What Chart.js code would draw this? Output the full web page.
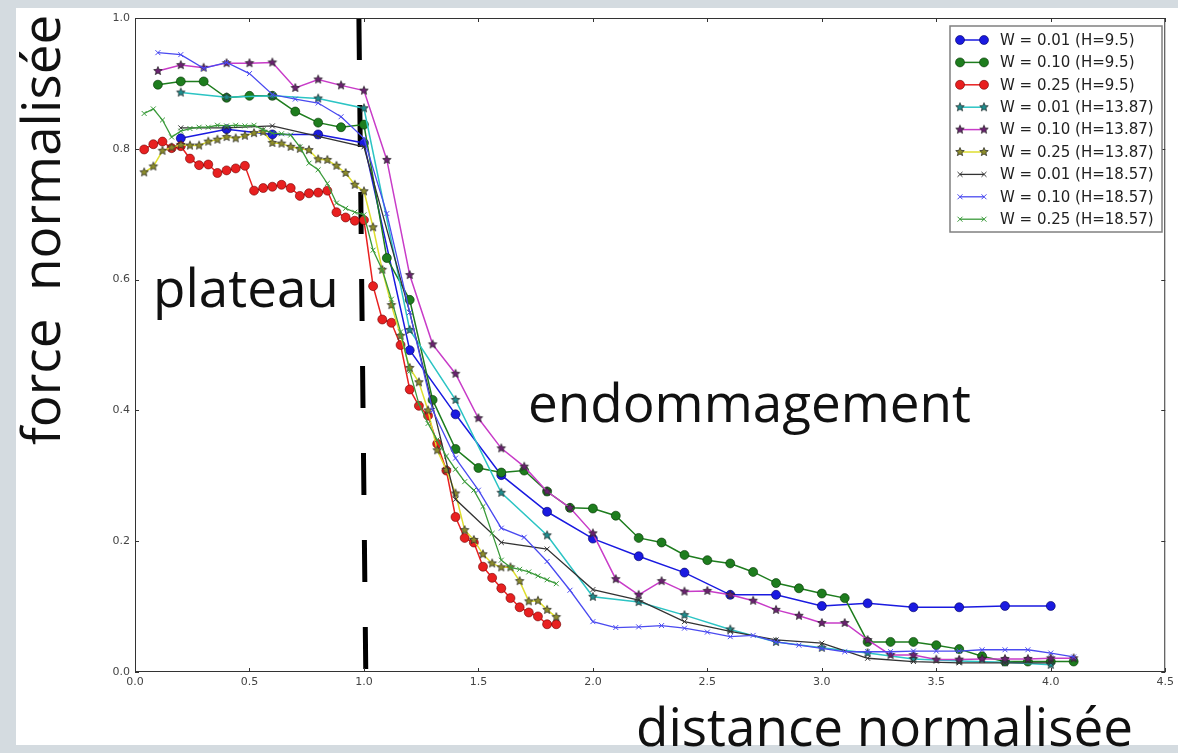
<!DOCTYPE html>
<html>
<head>
<meta charset="utf-8">
<script src="https://cdn.jsdelivr.net/npm/chart.js@4/dist/chart.umd.min.js"></script>
<style>
  html, body { margin: 0; padding: 0; background: #d4dbe0; overflow: hidden; }
  #sheet { position: absolute; left: 16px; top: 8px; width: 1162px; height: 737px; background: #fff; }
  #chart { position: absolute; left: 0; top: 0; }
</style>
</head>
<body>
<div id="sheet"></div>
<canvas id="chart" width="1178" height="753"></canvas>
<script>
// distances (x) used by the runs
const xStep01 = [0.1, 0.2, 0.3, 0.4, 0.5, 0.6, 0.7, 0.8, 0.9, 1.0,
                 1.1, 1.2, 1.3, 1.4, 1.5, 1.6, 1.7, 1.8, 1.9, 2.0,
                 2.1, 2.2, 2.3, 2.4, 2.5, 2.6, 2.7, 2.8, 2.9, 3.0,
                 3.1, 3.2, 3.3, 3.4, 3.5, 3.6, 3.7, 3.8, 3.9, 4.0, 4.1];
const xStep02 = [0.2, 0.4, 0.6, 0.8, 1.0, 1.2, 1.4, 1.6, 1.8, 2.0,
                 2.2, 2.4, 2.6, 2.8, 3.0, 3.2, 3.4, 3.6, 3.8, 4.0];
const xStep004 = [0.04, 0.08, 0.12, 0.16, 0.20, 0.24, 0.28, 0.32, 0.36, 0.40,
                  0.44, 0.48, 0.52, 0.56, 0.60, 0.64, 0.68, 0.72, 0.76, 0.80,
                  0.84, 0.88, 0.92, 0.96, 1.00, 1.04, 1.08, 1.12, 1.16, 1.20,
                  1.24, 1.28, 1.32, 1.36, 1.40, 1.44, 1.48, 1.52, 1.56, 1.60,
                  1.64, 1.68, 1.72, 1.76, 1.80, 1.84];

// normalised force per run
const w001h95 = [0.816, 0.830, 0.822, 0.822, 0.809, 0.492, 0.394, 0.301, 0.245, 0.204,
                 0.177, 0.152, 0.118, 0.118, 0.101, 0.105, 0.099, 0.099, 0.101, 0.101];
const w010h95 = [0.898, 0.903, 0.903, 0.878, 0.881, 0.881, 0.857, 0.840, 0.833, 0.837,
                 0.633, 0.569, 0.416, 0.341, 0.312, 0.305, 0.308, 0.276, 0.251, 0.250,
                 0.239, 0.205, 0.198, 0.179, 0.171, 0.166, 0.153, 0.136, 0.128, 0.120,
                 0.113, 0.046, 0.046, 0.046, 0.041, 0.035, 0.024, 0.016, 0.016, 0.016, 0.016];
const w025h95 = [0.799, 0.807, 0.811, 0.801, 0.804, 0.785, 0.775, 0.776, 0.763, 0.767,
                 0.770, 0.774, 0.736, 0.740, 0.742, 0.745, 0.740, 0.728, 0.732, 0.733,
                 0.736, 0.703, 0.695, 0.690, 0.691, 0.590, 0.539, 0.534, 0.500, 0.432,
                 0.407, 0.392, 0.349, 0.308, 0.237, 0.205, 0.198, 0.161, 0.144, 0.128,
                 0.113, 0.099, 0.091, 0.085, 0.073, 0.073];
const w001h1387 = [0.886, 0.879, 0.881, 0.877, 0.862, 0.523, 0.416, 0.274, 0.209, 0.115,
                   0.107, 0.087, 0.065, 0.046, 0.037, 0.029, 0.020, 0.017, 0.015, 0.011];
const w010h1387 = [0.919, 0.928, 0.924, 0.931, 0.931, 0.932, 0.893, 0.906, 0.897, 0.889,
                   0.783, 0.607, 0.501, 0.456, 0.388, 0.342, 0.314, 0.276, 0.251, 0.212,
                   0.142, 0.118, 0.139, 0.123, 0.124, 0.118, 0.109, 0.095, 0.086, 0.075,
                   0.075, 0.049, 0.026, 0.026, 0.019, 0.019, 0.020, 0.020, 0.020, 0.021, 0.021];
const w025h1387 = [0.764, 0.773, 0.797, 0.802, 0.806, 0.805, 0.805, 0.811, 0.814, 0.818,
                   0.816, 0.820, 0.824, 0.826, 0.809, 0.808, 0.803, 0.800, 0.798, 0.784,
                   0.783, 0.774, 0.763, 0.745, 0.735, 0.680, 0.615, 0.561, 0.514, 0.465,
                   0.443, 0.400, 0.339, 0.309, 0.273, 0.217, 0.202, 0.180, 0.166, 0.160,
                   0.160, 0.139, 0.108, 0.109, 0.095, 0.084];
const w001h1857 = [0.832, 0.832, 0.835, 0.819, 0.803, 0.550, 0.264, 0.198, 0.188, 0.126,
                   0.110, 0.077, 0.062, 0.049, 0.044, 0.021, 0.016, 0.014, 0.014, 0.014];
const w010h1857 = [0.947, 0.944, 0.923, 0.932, 0.915, 0.883, 0.876, 0.870, 0.849, 0.816,
                   0.701, 0.550, 0.400, 0.327, 0.278, 0.220, 0.206, 0.169, 0.125, 0.077,
                   0.068, 0.069, 0.071, 0.067, 0.061, 0.054, 0.056, 0.046, 0.041, 0.036,
                   0.031, 0.031, 0.031, 0.032, 0.032, 0.032, 0.034, 0.034, 0.034, 0.029, 0.023];
const w025h1857 = [0.854, 0.861, 0.844, 0.818, 0.827, 0.831, 0.833, 0.833, 0.836, 0.835,
                   0.836, 0.835, 0.836, 0.829, 0.824, 0.823, 0.821, 0.803, 0.778, 0.768,
                   0.747, 0.717, 0.709, 0.703, 0.699, 0.645, 0.615, 0.570, 0.520, 0.460,
                   0.410, 0.380, 0.355, 0.330, 0.310, 0.291, 0.278, 0.253, 0.212, 0.171,
                   0.160, 0.157, 0.153, 0.147, 0.141, 0.135];

const seriesLabels = ["W = 0.01 (H=9.5)", "W = 0.10 (H=9.5)", "W = 0.25 (H=9.5)",
                      "W = 0.01 (H=13.87)", "W = 0.10 (H=13.87)", "W = 0.25 (H=13.87)",
                      "W = 0.01 (H=18.57)", "W = 0.10 (H=18.57)", "W = 0.25 (H=18.57)"];

// dashed boundary plateau / endommagement
const dividerX = [0.978, 1.008];
const dividerY = [1.0, 0.0];

const xTicks = [0.0, 0.5, 1.0, 1.5, 2.0, 2.5, 3.0, 3.5, 4.0, 4.5];
const yTicks = [0.0, 0.2, 0.4, 0.6, 0.8, 1.0];

function toPoints(xs, ys) {
    return ys.map((v, i) => ({ x: xs[i], y: v }));
}

// filled star marker (matplotlib '*')
function makeStar(fill, edge, r) {
    const c = document.createElement("canvas");
    const s = Math.ceil(r * 2 + 3);
    c.width = s; c.height = s;
    const g = c.getContext("2d");
    g.translate(s / 2, s / 2);
    g.beginPath();
    for (let k = 0; k < 10; k++) {
        const rr = k % 2 === 0 ? r : r * 0.45;
        const a = -Math.PI / 2 + k * Math.PI / 5;
        g.lineTo(rr * Math.cos(a), rr * Math.sin(a));
    }
    g.closePath();
    g.fillStyle = fill;
    g.fill();
    g.lineWidth = 0.7;
    g.strokeStyle = edge;
    g.stroke();
    return c;
}

function circleSet(label, xs, ys, color, edge, idx) {
    return {
        label, data: toPoints(xs, ys), borderColor: color, borderWidth: 1.5,
        pointStyle: "circle", pointRadius: 4.5, pointBackgroundColor: color,
        pointBorderColor: edge, pointBorderWidth: 0.6, order: 20 - idx
    };
}
function starSet(label, xs, ys, color, fill, idx) {
    return {
        label, data: toPoints(xs, ys), borderColor: color, borderWidth: 1.5,
        pointStyle: makeStar(fill, "#222", 4.5), pointRadius: 4.5, order: 20 - idx
    };
}
function crossSet(label, xs, ys, color, idx) {
    return {
        label, data: toPoints(xs, ys), borderColor: color, borderWidth: 1.3,
        pointStyle: "crossRot", pointRadius: 3.5, pointBorderColor: color,
        pointBorderWidth: 1, order: 20 - idx
    };
}

const datasets = [
    circleSet(seriesLabels[0], xStep02, w001h95, "#1a1ae0", "#000060", 0),
    circleSet(seriesLabels[1], xStep01, w010h95, "#1e7d1e", "#003000", 1),
    circleSet(seriesLabels[2], xStep004, w025h95, "#e82020", "#700000", 2),
    starSet(seriesLabels[3], xStep02, w001h1387, "#2cc4c4", "#1f8d8d", 3),
    starSet(seriesLabels[4], xStep01, w010h1387, "#c83cc8", "#6a2270", 4),
    starSet(seriesLabels[5], xStep004, w025h1387, "#dede30", "#8c8c2c", 5),
    crossSet(seriesLabels[6], xStep02, w001h1857, "#333333", 6),
    crossSet(seriesLabels[7], xStep01, w010h1857, "#4a4af0", 7),
    crossSet(seriesLabels[8], xStep004, w025h1857, "#3a9a3a", 8),
    {
        label: "divider", data: toPoints(dividerX, dividerY), borderColor: "#000",
        borderWidth: 5, borderDash: [42, 45], pointRadius: 0, order: 100
    }
];

function strokeLine(ctx, x1, y1, x2, y2) {
    ctx.beginPath();
    ctx.moveTo(x1, y1);
    ctx.lineTo(x2, y2);
    ctx.stroke();
}

function drawMarker(ctx, ds, x, y) {
    const opts = {
        pointStyle: ds.pointStyle, radius: ds.pointRadius,
        borderWidth: ds.pointBorderWidth || 0, rotation: 0
    };
    ctx.fillStyle = ds.pointBackgroundColor || ds.borderColor;
    ctx.strokeStyle = ds.pointBorderColor || ds.borderColor;
    ctx.lineWidth = ds.pointBorderWidth || 1;
    Chart.helpers.drawPoint(ctx, opts, x, y);
}

// frame, inner ticks, texts and legend
const decorPlugin = {
    id: "decor",
    afterDraw(chart) {
        const { ctx, chartArea: a } = chart;
        const xs = chart.scales.x, ys = chart.scales.y;
        ctx.save();

        ctx.strokeStyle = "#333";
        ctx.lineWidth = 1;
        ctx.strokeRect(a.left + 0.5, a.top + 0.5, a.right - a.left - 1, a.bottom - a.top - 1);
        xTicks.forEach(v => {
            const px = Math.round(xs.getPixelForValue(v)) + 0.5;
            strokeLine(ctx, px, a.bottom, px, a.bottom - 4);
            strokeLine(ctx, px, a.top, px, a.top + 4);
        });
        yTicks.forEach(v => {
            const py = Math.round(ys.getPixelForValue(v)) + 0.5;
            strokeLine(ctx, a.left, py, a.left + 4, py);
            strokeLine(ctx, a.right, py, a.right - 4, py);
        });

        // annotations and axis titles
        ctx.fillStyle = "#111";
        ctx.font = '53px "Open Sans"';
        ctx.textBaseline = "alphabetic";
        ctx.textAlign = "left";
        ctx.fillText("plateau", 153, 307);
        ctx.fillText("endommagement", 528, 422);
        ctx.fillText("distance normalisée", 636, 746);
        ctx.save();
        ctx.translate(60, 445);
        ctx.rotate(-Math.PI / 2);
        ctx.fillText("force  normalisée", 0, 0);
        ctx.restore();

        // legend box
        const bx = 950, by = 26, bw = 212, bh = 206;
        ctx.fillStyle = "#fff";
        ctx.fillRect(bx, by, bw, bh);
        ctx.strokeStyle = "#808080";
        ctx.lineWidth = 1.5;
        ctx.strokeRect(bx, by, bw, bh);
        ctx.font = '15px "DejaVu Sans"';
        ctx.textBaseline = "middle";
        seriesLabels.forEach((lab, i) => {
            const ds = chart.data.datasets[i];
            const yy = 40 + i * 22.4;
            ctx.strokeStyle = ds.borderColor;
            ctx.lineWidth = ds.borderWidth;
            strokeLine(ctx, 960, yy, 984, yy);
            drawMarker(ctx, ds, 960, yy);
            drawMarker(ctx, ds, 984, yy);
            ctx.fillStyle = "#222";
            ctx.fillText(lab, 1000, yy + 1);
        });
        ctx.restore();
    }
};

new Chart(document.getElementById("chart").getContext("2d"), {
    type: "scatter",
    data: { datasets: datasets },
    options: {
        responsive: false,
        animation: false,
        devicePixelRatio: 1,
        showLine: true,
        elements: { line: { tension: 0, fill: false } },
        layout: { padding: { top: 18, right: 8, left: 0, bottom: 0 } },
        plugins: {
            legend: { display: false },
            tooltip: { enabled: false }
        },
        scales: {
            x: {
                type: "linear", min: 0, max: 4.5,
                afterFit: s => { s.height = 81; },
                afterBuildTicks: s => { s.ticks = xTicks.map(v => ({ value: v })); },
                grid: { display: false, drawTicks: false },
                border: { display: false },
                ticks: {
                    padding: 4, color: "#444", maxRotation: 0,
                    font: { family: "DejaVu Sans", size: 11 },
                    callback: v => v.toFixed(1)
                }
            },
            y: {
                type: "linear", min: 0, max: 1,
                afterFit: s => { s.width = 135; },
                afterBuildTicks: s => { s.ticks = yTicks.map(v => ({ value: v })); },
                grid: { display: false, drawTicks: false },
                border: { display: false },
                ticks: {
                    padding: 5, color: "#444",
                    font: { family: "DejaVu Sans", size: 11 },
                    callback: v => v.toFixed(1)
                }
            }
        }
    },
    plugins: [decorPlugin]
});
</script>
</body>
</html>
